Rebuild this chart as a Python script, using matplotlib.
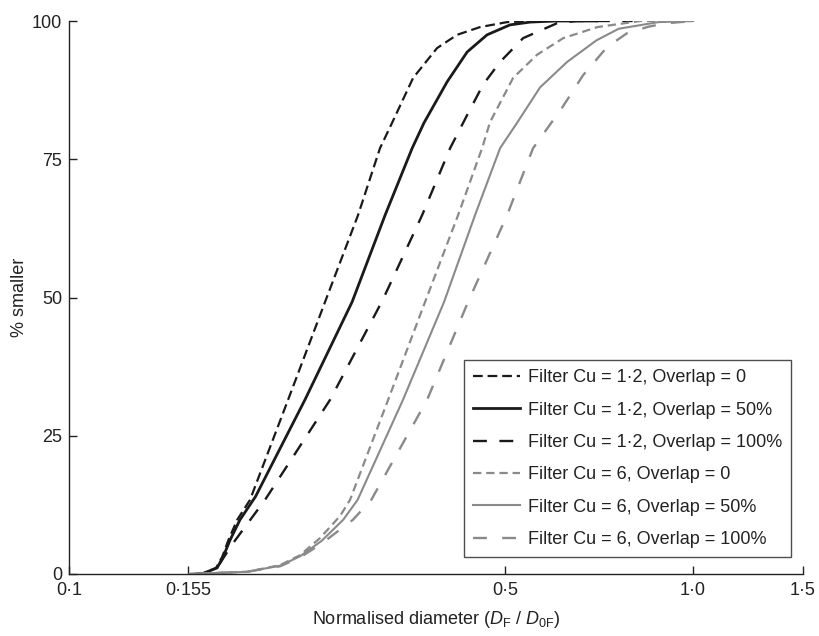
import matplotlib
matplotlib.use("Agg")
import matplotlib.pyplot as plt
from matplotlib.ticker import FixedLocator, FixedFormatter, NullLocator

plt.rcParams['font.family'] = ['Liberation Sans', 'DejaVu Sans']
plt.rcParams['mathtext.fontset'] = 'custom'
plt.rcParams['mathtext.rm'] = 'Liberation Sans'
plt.rcParams['mathtext.it'] = 'Liberation Sans:italic'
plt.rcParams['lines.scale_dashes'] = False

# ---- data ----
cu12_o0_x = [0.160, 0.164, 0.1720, 0.1760, 0.1800, 0.1860, 0.1950, 0.2244, 0.2572, 0.2905, 0.3150,
             0.3294, 0.3559, 0.3888, 0.4186, 0.4556, 0.5035, 0.56, 0.60]
cu12_o0_y = [0.0, 0.1, 1.1, 3.1, 6.1, 9.8, 13.4, 31.5, 49.2, 64.9, 77.0,
             81.6, 89.7, 95.1, 97.5, 98.9, 99.8, 100.0, 100.0]

cu12_o50_x = [0.160, 0.164, 0.1727, 0.1766, 0.1811, 0.1879, 0.1990, 0.2388, 0.2842, 0.3210, 0.3547,
              0.3706, 0.4035, 0.4345, 0.4676, 0.5089, 0.5480, 0.60, 0.70]
cu12_o50_y = [0.0, 0.1, 1.1, 3.1, 6.1, 9.8, 14.0, 31.5, 49.2, 64.9, 77.0,
              81.6, 89.0, 94.4, 97.5, 99.3, 99.8, 100.0, 100.0]

cu12_o100_x = [0.160, 0.164, 0.1727, 0.1770, 0.1830, 0.1894, 0.2061, 0.2620, 0.318, 0.3680, 0.4080,
               0.4345, 0.4608, 0.4906, 0.5341, 0.6054, 0.65, 0.80]
cu12_o100_y = [0.0, 0.1, 1.1, 3.0, 5.5, 7.8, 13.4, 31.5, 49.5, 64.9, 77.0,
               83.0, 88.5, 92.6, 96.9, 99.6, 100.0, 100.0]

cu6_o0_x = [0.156, 0.1929, 0.2179, 0.2345, 0.2525, 0.2719, 0.282, 0.3246, 0.3720, 0.4202, 0.4591,
            0.4727, 0.5147, 0.5623, 0.6193, 0.7025, 0.8227, 1.0]
cu6_o0_y = [0.0, 0.4, 1.6, 3.4, 6.5, 10.5, 13.4, 31.5, 49.2, 64.9, 77.0,
            81.7, 89.7, 93.9, 96.9, 98.9, 100.0, 100.0]

cu6_o50_x = [0.156, 0.1929, 0.2179, 0.2345, 0.2540, 0.2750, 0.290, 0.3429, 0.3990, 0.4473, 0.4906,
             0.5224, 0.5686, 0.6283, 0.70, 0.76, 0.88, 1.0]
cu6_o50_y = [0.0, 0.4, 1.5, 3.2, 6.0, 9.8, 13.4, 31.5, 49.2, 64.9, 77.0,
             81.6, 88.0, 92.6, 96.5, 98.6, 99.8, 100.0]

cu6_o100_x = [0.156, 0.1929, 0.2179, 0.2345, 0.2540, 0.2850, 0.305, 0.3748, 0.4359, 0.5035, 0.5541,
              0.6166, 0.6664, 0.7282, 0.7839, 0.85, 0.9089, 1.0]
cu6_o100_y = [0.0, 0.4, 1.4, 3.0, 5.5, 9.8, 13.4, 31.5, 49.2, 64.9, 77.0,
              84.3, 90.2, 95.3, 97.8, 99.0, 99.6, 100.0]

labels = ["Filter Cu = 1·2, Overlap = 0", "Filter Cu = 1·2, Overlap = 50%",
          "Filter Cu = 1·2, Overlap = 100%", "Filter Cu = 6, Overlap = 0",
          "Filter Cu = 6, Overlap = 50%", "Filter Cu = 6, Overlap = 100%"]

xtick_vals = [0.1, 0.155, 0.5, 1.0, 1.5]
xtick_labels = ["0·1", "0·155", "0·5", "1·0", "1·5"]
ytick_vals = [0, 25, 50, 75, 100]

# ---- figure ----
fig = plt.figure(figsize=(8.19, 6.36), dpi=100)
ax = fig.add_axes([69/819, 1-574/636, (803-69)/819, (574-21)/636])

black = '#1a1a1a'
gray = '#8a8a8a'
ax.plot(cu12_o0_x, cu12_o0_y, color=black, lw=1.6, dashes=(7, 3.5), label=labels[0])
ax.plot(cu12_o50_x, cu12_o50_y, color=black, lw=2.0, label=labels[1])
ax.plot(cu12_o100_x, cu12_o100_y, color=black, lw=1.7, dashes=(10, 9), label=labels[2])
ax.plot(cu6_o0_x, cu6_o0_y, color=gray, lw=1.6, dashes=(6, 3.5), label=labels[3])
ax.plot(cu6_o50_x, cu6_o50_y, color=gray, lw=1.5, label=labels[4])
ax.plot(cu6_o100_x, cu6_o100_y, color=gray, lw=1.7, dashes=(10, 11), label=labels[5])

ax.set_xscale('log')
ax.set_xlim(0.1, 1.5)
ax.set_ylim(0, 100)
ax.xaxis.set_major_locator(FixedLocator(xtick_vals))
ax.xaxis.set_major_formatter(FixedFormatter(xtick_labels))
ax.xaxis.set_minor_locator(NullLocator())
ax.set_yticks(ytick_vals)
ax.set_yticklabels([str(v) for v in ytick_vals])

for s in ['top', 'right']:
    ax.spines[s].set_visible(False)
for s in ['left', 'bottom']:
    ax.spines[s].set_color('#222222')
    ax.spines[s].set_linewidth(1.0)

ax.tick_params(direction='in', length=6, width=1.0, color='#222222', labelsize=13, labelcolor='#222222')
ax.tick_params(axis='x', pad=6)
ax.tick_params(axis='y', pad=5)

ax.set_xlabel(r"Normalised diameter ($D_\mathrm{F}$ / $D_\mathrm{0F}$)", fontsize=13, color='#222222', labelpad=7)
ax.set_ylabel("% smaller", fontsize=13, color='#222222', labelpad=3)

leg = ax.legend(loc='lower right', bbox_to_anchor=(0.9837, 0.0307), borderaxespad=0,
                fontsize=13, frameon=True, fancybox=False, handlelength=2.6,
                handletextpad=0.45, labelspacing=0.85, borderpad=0.5)
leg.get_frame().set_edgecolor('#222222')
leg.get_frame().set_linewidth(1.0)
for t in leg.get_texts():
    t.set_color('#222222')

fig.savefig("out.png", dpi=100)
